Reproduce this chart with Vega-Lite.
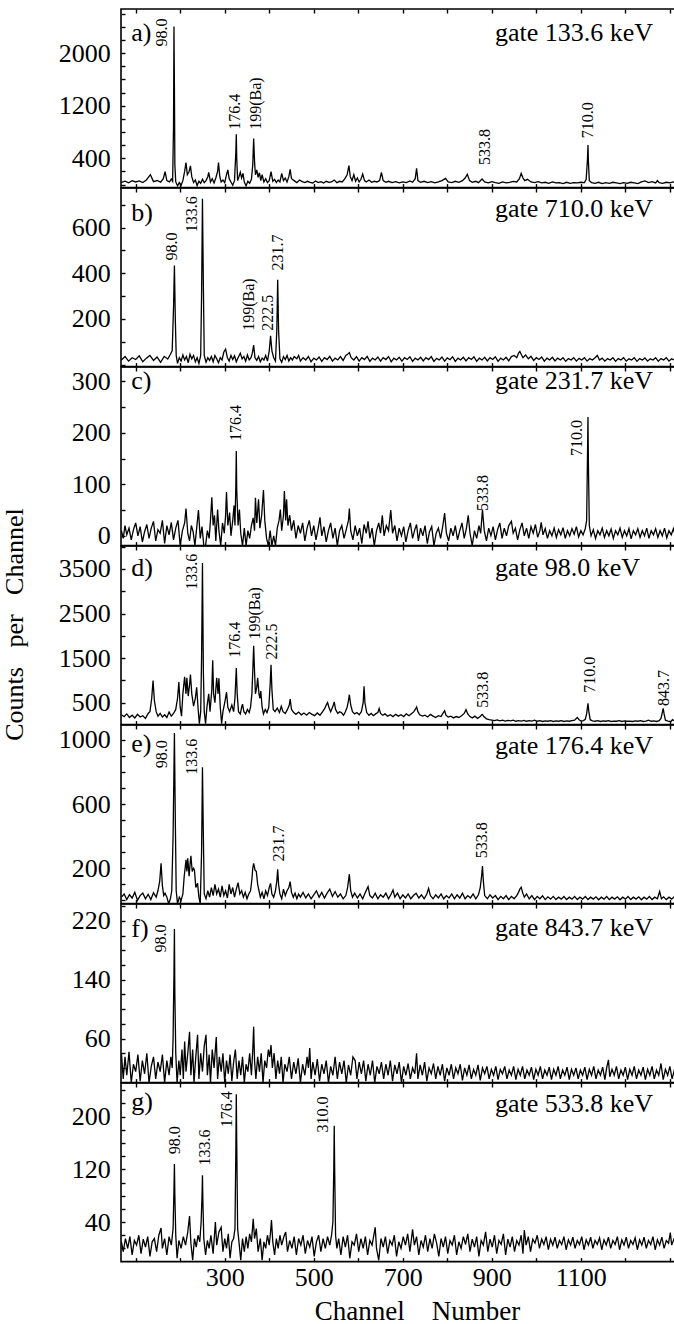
{
"$schema": "https://vega.github.io/schema/vega-lite/v6.json",
"padding": {"left": 0, "top": 7, "right": 0, "bottom": 14},
"bounds": "flush",
"spacing": 0,
"config": {
 "view": {"stroke": "black", "strokeWidth": 1.6},
 "font": "Liberation Serif",
 "axis": {"labelFont": "Liberation Serif", "labelColor": "black", "tickColor": "black", "tickWidth": 1.4, "tickSize": -4, "tickCount": 100, "domain": false, "grid": false, "labelOverlap": false, "labelFlush": false, "titleFont": "Liberation Serif", "titleColor": "black", "titleFontWeight": "normal", "format": "d"},
 "axisX": {"labelFontSize": 26, "labelPadding": 6.6},
 "axisY": {"labelFontSize": 26, "labelPadding": 14.7},
 "text": {"font": "Liberation Serif", "color": "black"}
},
"datasets": {
"a": [{"c":68,"v":35},{"c":76,"v":52},{"c":84,"v":28},{"c":92,"v":60},{"c":100,"v":40},{"c":108,"v":55},{"c":116,"v":30},{"c":124,"v":70},{"c":133,"v":150},{"c":140,"v":45},{"c":148,"v":62},{"c":156,"v":38},{"c":162,"v":90},{"c":166,"v":197},{"c":170,"v":60},{"c":176,"v":40},{"c":180,"v":85},{"c":183,"v":50},{"c":185,"v":900},{"c":186,"v":2407},{"c":187,"v":1500},{"c":188,"v":300},{"c":190,"v":40},{"c":194,"v":-20},{"c":198,"v":30},{"c":202,"v":-10},{"c":206,"v":60},{"c":210,"v":200},{"c":213,"v":334},{"c":216,"v":150},{"c":220,"v":200},{"c":223,"v":284},{"c":226,"v":120},{"c":230,"v":30},{"c":234,"v":70},{"c":238,"v":-15},{"c":242,"v":50},{"c":246,"v":20},{"c":250,"v":80},{"c":254,"v":30},{"c":258,"v":60},{"c":262,"v":120},{"c":264,"v":187},{"c":268,"v":40},{"c":272,"v":90},{"c":276,"v":25},{"c":280,"v":100},{"c":284,"v":200},{"c":286,"v":334},{"c":289,"v":120},{"c":292,"v":40},{"c":296,"v":70},{"c":300,"v":30},{"c":304,"v":150},{"c":307,"v":223},{"c":310,"v":90},{"c":314,"v":40},{"c":318,"v":-10},{"c":322,"v":60},{"c":325,"v":500},{"c":326,"v":766},{"c":327,"v":400},{"c":329,"v":60},{"c":332,"v":120},{"c":335,"v":187},{"c":338,"v":100},{"c":341,"v":170},{"c":344,"v":40},{"c":348,"v":-20},{"c":352,"v":50},{"c":356,"v":20},{"c":360,"v":80},{"c":363,"v":300},{"c":365,"v":700},{"c":367,"v":350},{"c":369,"v":150},{"c":372,"v":223},{"c":375,"v":110},{"c":378,"v":180},{"c":381,"v":60},{"c":384,"v":150},{"c":388,"v":40},{"c":392,"v":90},{"c":396,"v":30},{"c":400,"v":60},{"c":404,"v":197},{"c":408,"v":50},{"c":412,"v":80},{"c":416,"v":30},{"c":420,"v":70},{"c":424,"v":40},{"c":428,"v":171},{"c":432,"v":60},{"c":436,"v":100},{"c":440,"v":40},{"c":444,"v":120},{"c":447,"v":232},{"c":450,"v":90},{"c":456,"v":60},{"c":462,"v":30},{"c":468,"v":70},{"c":474,"v":45},{"c":480,"v":30},{"c":486,"v":50},{"c":492,"v":35},{"c":498,"v":25},{"c":504,"v":55},{"c":510,"v":30},{"c":516,"v":45},{"c":522,"v":25},{"c":528,"v":50},{"c":534,"v":35},{"c":540,"v":40},{"c":546,"v":70},{"c":552,"v":30},{"c":558,"v":50},{"c":564,"v":40},{"c":570,"v":90},{"c":575,"v":150},{"c":579,"v":289},{"c":582,"v":120},{"c":586,"v":60},{"c":590,"v":150},{"c":594,"v":50},{"c":598,"v":100},{"c":602,"v":40},{"c":606,"v":80},{"c":610,"v":162},{"c":614,"v":60},{"c":618,"v":40},{"c":624,"v":70},{"c":630,"v":35},{"c":636,"v":50},{"c":642,"v":40},{"c":648,"v":60},{"c":652,"v":187},{"c":656,"v":60},{"c":662,"v":35},{"c":668,"v":50},{"c":676,"v":30},{"c":684,"v":45},{"c":692,"v":25},{"c":700,"v":40},{"c":708,"v":30},{"c":716,"v":55},{"c":722,"v":35},{"c":728,"v":90},{"c":731,"v":248},{"c":734,"v":60},{"c":740,"v":35},{"c":748,"v":50},{"c":756,"v":30},{"c":764,"v":45},{"c":772,"v":25},{"c":780,"v":40},{"c":788,"v":60},{"c":796,"v":95},{"c":802,"v":40},{"c":810,"v":30},{"c":818,"v":50},{"c":826,"v":35},{"c":834,"v":60},{"c":840,"v":100},{"c":845,"v":158},{"c":850,"v":60},{"c":856,"v":35},{"c":864,"v":50},{"c":870,"v":30},{"c":878,"v":85},{"c":884,"v":40},{"c":892,"v":25},{"c":900,"v":45},{"c":908,"v":30},{"c":916,"v":20},{"c":924,"v":40},{"c":932,"v":25},{"c":940,"v":35},{"c":948,"v":50},{"c":956,"v":40},{"c":962,"v":90},{"c":966,"v":171},{"c":970,"v":100},{"c":974,"v":60},{"c":980,"v":80},{"c":988,"v":40},{"c":996,"v":30},{"c":1004,"v":45},{"c":1012,"v":25},{"c":1020,"v":35},{"c":1028,"v":20},{"c":1036,"v":40},{"c":1044,"v":25},{"c":1052,"v":30},{"c":1060,"v":15},{"c":1068,"v":35},{"c":1076,"v":20},{"c":1084,"v":30},{"c":1092,"v":25},{"c":1100,"v":35},{"c":1108,"v":30},{"c":1112,"v":80},{"c":1115,"v":400},{"c":1116,"v":604},{"c":1117,"v":350},{"c":1119,"v":60},{"c":1124,"v":30},{"c":1132,"v":20},{"c":1140,"v":35},{"c":1148,"v":15},{"c":1156,"v":30},{"c":1164,"v":20},{"c":1172,"v":35},{"c":1180,"v":25},{"c":1188,"v":15},{"c":1196,"v":30},{"c":1204,"v":20},{"c":1212,"v":35},{"c":1220,"v":25},{"c":1228,"v":15},{"c":1236,"v":40},{"c":1244,"v":55},{"c":1252,"v":30},{"c":1260,"v":45},{"c":1268,"v":25},{"c":1272,"v":60},{"c":1276,"v":30},{"c":1284,"v":20},{"c":1292,"v":35},{"c":1300,"v":25},{"c":1308,"v":40},{"c":1316,"v":30}],
"b": [{"c":68,"v":20},{"c":76,"v":35},{"c":84,"v":15},{"c":92,"v":30},{"c":100,"v":22},{"c":108,"v":38},{"c":116,"v":12},{"c":124,"v":28},{"c":132,"v":40},{"c":140,"v":18},{"c":148,"v":33},{"c":156,"v":10},{"c":164,"v":36},{"c":172,"v":24},{"c":178,"v":45},{"c":182,"v":60},{"c":185,"v":250},{"c":187,"v":434},{"c":189,"v":200},{"c":191,"v":40},{"c":194,"v":5},{"c":198,"v":30},{"c":202,"v":15},{"c":206,"v":42},{"c":210,"v":20},{"c":214,"v":35},{"c":218,"v":8},{"c":222,"v":45},{"c":226,"v":25},{"c":230,"v":40},{"c":234,"v":12},{"c":238,"v":30},{"c":242,"v":5},{"c":246,"v":40},{"c":248,"v":300},{"c":250,"v":727},{"c":252,"v":350},{"c":254,"v":40},{"c":258,"v":10},{"c":262,"v":30},{"c":266,"v":18},{"c":270,"v":35},{"c":274,"v":12},{"c":278,"v":40},{"c":282,"v":25},{"c":286,"v":8},{"c":290,"v":30},{"c":294,"v":20},{"c":298,"v":55},{"c":302,"v":67},{"c":306,"v":30},{"c":310,"v":15},{"c":314,"v":40},{"c":318,"v":22},{"c":322,"v":38},{"c":326,"v":12},{"c":330,"v":30},{"c":335,"v":50},{"c":339,"v":25},{"c":343,"v":35},{"c":347,"v":15},{"c":351,"v":42},{"c":355,"v":20},{"c":359,"v":30},{"c":362,"v":50},{"c":365,"v":85},{"c":368,"v":30},{"c":372,"v":18},{"c":376,"v":35},{"c":380,"v":12},{"c":384,"v":28},{"c":388,"v":20},{"c":392,"v":40},{"c":396,"v":15},{"c":400,"v":60},{"c":403,"v":126},{"c":406,"v":60},{"c":410,"v":30},{"c":414,"v":15},{"c":417,"v":150},{"c":419,"v":372},{"c":421,"v":150},{"c":424,"v":25},{"c":428,"v":10},{"c":432,"v":35},{"c":436,"v":22},{"c":440,"v":40},{"c":444,"v":15},{"c":448,"v":30},{"c":452,"v":20},{"c":456,"v":35},{"c":462,"v":25},{"c":466,"v":40},{"c":470,"v":15},{"c":476,"v":30},{"c":482,"v":20},{"c":488,"v":35},{"c":494,"v":12},{"c":500,"v":28},{"c":506,"v":20},{"c":512,"v":33},{"c":518,"v":14},{"c":524,"v":30},{"c":530,"v":22},{"c":536,"v":36},{"c":542,"v":15},{"c":548,"v":28},{"c":554,"v":20},{"c":560,"v":35},{"c":566,"v":18},{"c":572,"v":40},{"c":576,"v":45},{"c":580,"v":52},{"c":584,"v":30},{"c":590,"v":20},{"c":596,"v":35},{"c":602,"v":15},{"c":608,"v":30},{"c":614,"v":22},{"c":620,"v":36},{"c":626,"v":14},{"c":632,"v":28},{"c":638,"v":20},{"c":644,"v":33},{"c":650,"v":15},{"c":656,"v":30},{"c":662,"v":22},{"c":668,"v":35},{"c":674,"v":12},{"c":680,"v":28},{"c":686,"v":20},{"c":692,"v":32},{"c":698,"v":15},{"c":704,"v":30},{"c":710,"v":22},{"c":716,"v":34},{"c":722,"v":14},{"c":728,"v":28},{"c":734,"v":20},{"c":740,"v":32},{"c":746,"v":16},{"c":752,"v":30},{"c":758,"v":22},{"c":764,"v":35},{"c":770,"v":14},{"c":776,"v":27},{"c":782,"v":20},{"c":788,"v":33},{"c":794,"v":15},{"c":800,"v":29},{"c":806,"v":21},{"c":812,"v":34},{"c":818,"v":14},{"c":824,"v":28},{"c":830,"v":20},{"c":836,"v":32},{"c":842,"v":16},{"c":848,"v":30},{"c":854,"v":22},{"c":860,"v":34},{"c":866,"v":14},{"c":872,"v":28},{"c":878,"v":20},{"c":884,"v":32},{"c":890,"v":16},{"c":896,"v":30},{"c":902,"v":22},{"c":908,"v":34},{"c":914,"v":14},{"c":920,"v":28},{"c":926,"v":20},{"c":932,"v":32},{"c":938,"v":16},{"c":944,"v":35},{"c":950,"v":40},{"c":956,"v":30},{"c":960,"v":50},{"c":963,"v":57},{"c":966,"v":45},{"c":970,"v":30},{"c":976,"v":42},{"c":982,"v":25},{"c":988,"v":36},{"c":994,"v":18},{"c":1000,"v":30},{"c":1006,"v":22},{"c":1012,"v":33},{"c":1018,"v":15},{"c":1024,"v":28},{"c":1030,"v":20},{"c":1036,"v":32},{"c":1042,"v":16},{"c":1048,"v":28},{"c":1054,"v":20},{"c":1060,"v":30},{"c":1066,"v":14},{"c":1072,"v":26},{"c":1078,"v":20},{"c":1084,"v":30},{"c":1090,"v":15},{"c":1096,"v":27},{"c":1102,"v":20},{"c":1108,"v":30},{"c":1114,"v":15},{"c":1120,"v":26},{"c":1126,"v":20},{"c":1132,"v":30},{"c":1137,"v":40},{"c":1142,"v":20},{"c":1148,"v":28},{"c":1154,"v":15},{"c":1160,"v":26},{"c":1166,"v":20},{"c":1172,"v":30},{"c":1178,"v":14},{"c":1184,"v":26},{"c":1190,"v":20},{"c":1196,"v":30},{"c":1202,"v":15},{"c":1208,"v":25},{"c":1214,"v":20},{"c":1220,"v":30},{"c":1226,"v":14},{"c":1232,"v":26},{"c":1238,"v":20},{"c":1244,"v":29},{"c":1250,"v":15},{"c":1256,"v":25},{"c":1262,"v":20},{"c":1268,"v":30},{"c":1274,"v":14},{"c":1280,"v":26},{"c":1286,"v":20},{"c":1292,"v":30},{"c":1298,"v":15},{"c":1304,"v":25},{"c":1310,"v":20},{"c":1316,"v":28}],
"c": [{"c":68,"v":10},{"c":72,"v":-5},{"c":76,"v":20},{"c":80,"v":2},{"c":85,"v":15},{"c":90,"v":-8},{"c":95,"v":12},{"c":100,"v":25},{"c":105,"v":0},{"c":110,"v":18},{"c":115,"v":-12},{"c":120,"v":8},{"c":125,"v":22},{"c":130,"v":-5},{"c":135,"v":15},{"c":140,"v":28},{"c":145,"v":-10},{"c":150,"v":12},{"c":155,"v":5},{"c":160,"v":30},{"c":165,"v":-15},{"c":170,"v":20},{"c":175,"v":2},{"c":180,"v":26},{"c":185,"v":-8},{"c":190,"v":15},{"c":195,"v":30},{"c":200,"v":-19},{"c":205,"v":10},{"c":210,"v":25},{"c":213,"v":53},{"c":217,"v":5},{"c":221,"v":-10},{"c":225,"v":20},{"c":229,"v":8},{"c":233,"v":-19},{"c":237,"v":15},{"c":241,"v":50},{"c":245,"v":-5},{"c":249,"v":18},{"c":253,"v":-19},{"c":257,"v":-19},{"c":261,"v":10},{"c":265,"v":-5},{"c":268,"v":30},{"c":271,"v":75},{"c":274,"v":20},{"c":277,"v":40},{"c":280,"v":-10},{"c":284,"v":51},{"c":287,"v":10},{"c":291,"v":-19},{"c":295,"v":25},{"c":299,"v":5},{"c":302,"v":40},{"c":304,"v":85},{"c":307,"v":20},{"c":311,"v":45},{"c":314,"v":0},{"c":318,"v":30},{"c":321,"v":59},{"c":323,"v":20},{"c":325,"v":100},{"c":326,"v":165},{"c":327,"v":90},{"c":330,"v":20},{"c":333,"v":51},{"c":336,"v":5},{"c":340,"v":-19},{"c":344,"v":15},{"c":348,"v":-19},{"c":352,"v":10},{"c":356,"v":-5},{"c":360,"v":20},{"c":364,"v":35},{"c":367,"v":10},{"c":369,"v":74},{"c":372,"v":25},{"c":376,"v":71},{"c":379,"v":15},{"c":383,"v":40},{"c":387,"v":89},{"c":390,"v":30},{"c":394,"v":-5},{"c":398,"v":-19},{"c":402,"v":10},{"c":406,"v":-19},{"c":410,"v":0},{"c":414,"v":-19},{"c":418,"v":15},{"c":422,"v":30},{"c":425,"v":51},{"c":428,"v":10},{"c":432,"v":40},{"c":434,"v":87},{"c":437,"v":30},{"c":439,"v":71},{"c":442,"v":20},{"c":446,"v":40},{"c":450,"v":10},{"c":455,"v":30},{"c":460,"v":-5},{"c":465,"v":20},{"c":470,"v":5},{"c":475,"v":25},{"c":480,"v":-10},{"c":485,"v":15},{"c":490,"v":30},{"c":495,"v":0},{"c":500,"v":20},{"c":505,"v":-8},{"c":510,"v":15},{"c":514,"v":36},{"c":518,"v":0},{"c":523,"v":18},{"c":528,"v":-12},{"c":533,"v":10},{"c":538,"v":25},{"c":543,"v":-5},{"c":548,"v":15},{"c":553,"v":-19},{"c":558,"v":10},{"c":563,"v":20},{"c":568,"v":-5},{"c":573,"v":12},{"c":578,"v":30},{"c":580,"v":53},{"c":583,"v":10},{"c":588,"v":-8},{"c":593,"v":20},{"c":598,"v":0},{"c":603,"v":15},{"c":608,"v":-15},{"c":613,"v":22},{"c":618,"v":5},{"c":622,"v":28},{"c":626,"v":-5},{"c":631,"v":15},{"c":636,"v":-19},{"c":641,"v":10},{"c":646,"v":25},{"c":650,"v":5},{"c":654,"v":40},{"c":658,"v":0},{"c":663,"v":20},{"c":668,"v":10},{"c":673,"v":50},{"c":677,"v":5},{"c":682,"v":20},{"c":687,"v":-10},{"c":692,"v":15},{"c":697,"v":0},{"c":702,"v":18},{"c":707,"v":-12},{"c":712,"v":10},{"c":717,"v":25},{"c":722,"v":-5},{"c":727,"v":12},{"c":731,"v":22},{"c":735,"v":-10},{"c":740,"v":15},{"c":745,"v":0},{"c":750,"v":20},{"c":755,"v":-15},{"c":760,"v":8},{"c":765,"v":18},{"c":770,"v":-19},{"c":775,"v":5},{"c":780,"v":15},{"c":785,"v":-5},{"c":790,"v":20},{"c":794,"v":44},{"c":798,"v":5},{"c":803,"v":-10},{"c":808,"v":15},{"c":813,"v":0},{"c":818,"v":20},{"c":823,"v":-8},{"c":828,"v":10},{"c":833,"v":25},{"c":838,"v":-5},{"c":843,"v":15},{"c":847,"v":40},{"c":851,"v":5},{"c":856,"v":-19},{"c":861,"v":10},{"c":866,"v":-5},{"c":871,"v":20},{"c":875,"v":5},{"c":879,"v":51},{"c":883,"v":10},{"c":888,"v":-10},{"c":893,"v":15},{"c":898,"v":0},{"c":903,"v":18},{"c":908,"v":-8},{"c":913,"v":12},{"c":918,"v":25},{"c":923,"v":-5},{"c":928,"v":15},{"c":933,"v":0},{"c":938,"v":20},{"c":944,"v":28},{"c":948,"v":5},{"c":953,"v":15},{"c":958,"v":-8},{"c":963,"v":12},{"c":968,"v":25},{"c":973,"v":0},{"c":978,"v":15},{"c":983,"v":-5},{"c":988,"v":18},{"c":993,"v":5},{"c":998,"v":22},{"c":1003,"v":-3},{"c":1008,"v":10},{"c":1011,"v":26},{"c":1015,"v":2},{"c":1020,"v":14},{"c":1025,"v":-5},{"c":1030,"v":10},{"c":1035,"v":0},{"c":1040,"v":15},{"c":1045,"v":-3},{"c":1050,"v":12},{"c":1055,"v":2},{"c":1060,"v":16},{"c":1065,"v":-5},{"c":1070,"v":10},{"c":1075,"v":0},{"c":1080,"v":14},{"c":1085,"v":3},{"c":1090,"v":18},{"c":1095,"v":-2},{"c":1100,"v":10},{"c":1105,"v":2},{"c":1110,"v":14},{"c":1113,"v":30},{"c":1115,"v":160},{"c":1116,"v":231},{"c":1117,"v":140},{"c":1119,"v":20},{"c":1123,"v":0},{"c":1128,"v":12},{"c":1133,"v":-5},{"c":1138,"v":10},{"c":1143,"v":2},{"c":1148,"v":15},{"c":1153,"v":-3},{"c":1158,"v":10},{"c":1163,"v":0},{"c":1168,"v":13},{"c":1173,"v":-5},{"c":1178,"v":10},{"c":1183,"v":2},{"c":1188,"v":15},{"c":1193,"v":-3},{"c":1198,"v":10},{"c":1203,"v":0},{"c":1208,"v":14},{"c":1213,"v":-6},{"c":1218,"v":10},{"c":1223,"v":2},{"c":1228,"v":14},{"c":1233,"v":-3},{"c":1238,"v":10},{"c":1243,"v":0},{"c":1248,"v":15},{"c":1253,"v":-5},{"c":1258,"v":10},{"c":1263,"v":2},{"c":1268,"v":14},{"c":1273,"v":-3},{"c":1278,"v":10},{"c":1283,"v":0},{"c":1288,"v":15},{"c":1293,"v":-4},{"c":1298,"v":10},{"c":1303,"v":2},{"c":1308,"v":14},{"c":1313,"v":-3},{"c":1316,"v":8}],
"d": [{"c":68,"v":230},{"c":74,"v":190},{"c":80,"v":250},{"c":86,"v":170},{"c":92,"v":220},{"c":98,"v":160},{"c":104,"v":240},{"c":110,"v":180},{"c":116,"v":210},{"c":122,"v":150},{"c":128,"v":260},{"c":132,"v":300},{"c":136,"v":600},{"c":139,"v":1000},{"c":142,"v":550},{"c":146,"v":300},{"c":150,"v":200},{"c":155,"v":260},{"c":160,"v":180},{"c":165,"v":230},{"c":170,"v":170},{"c":175,"v":290},{"c":180,"v":200},{"c":185,"v":260},{"c":190,"v":350},{"c":194,"v":600},{"c":197,"v":963},{"c":200,"v":400},{"c":203,"v":200},{"c":206,"v":700},{"c":208,"v":900},{"c":210,"v":1082},{"c":213,"v":700},{"c":215,"v":1060},{"c":218,"v":650},{"c":221,"v":900},{"c":223,"v":1134},{"c":226,"v":700},{"c":230,"v":426},{"c":234,"v":600},{"c":237,"v":848},{"c":240,"v":400},{"c":243,"v":30},{"c":246,"v":300},{"c":248,"v":1500},{"c":250,"v":3634},{"c":252,"v":1200},{"c":254,"v":300},{"c":257,"v":30},{"c":260,"v":400},{"c":264,"v":700},{"c":267,"v":300},{"c":271,"v":800},{"c":273,"v":1450},{"c":275,"v":700},{"c":278,"v":500},{"c":280,"v":800},{"c":282,"v":1060},{"c":285,"v":700},{"c":287,"v":1050},{"c":290,"v":400},{"c":293,"v":30},{"c":296,"v":300},{"c":300,"v":500},{"c":304,"v":740},{"c":307,"v":400},{"c":311,"v":300},{"c":316,"v":450},{"c":320,"v":300},{"c":323,"v":600},{"c":326,"v":1276},{"c":328,"v":700},{"c":331,"v":300},{"c":335,"v":250},{"c":338,"v":400},{"c":340,"v":470},{"c":343,"v":300},{"c":347,"v":250},{"c":351,"v":350},{"c":355,"v":280},{"c":358,"v":400},{"c":361,"v":700},{"c":363,"v":1200},{"c":365,"v":1775},{"c":367,"v":1200},{"c":369,"v":700},{"c":372,"v":850},{"c":374,"v":1060},{"c":377,"v":700},{"c":379,"v":600},{"c":381,"v":760},{"c":384,"v":400},{"c":387,"v":250},{"c":391,"v":350},{"c":395,"v":280},{"c":399,"v":400},{"c":402,"v":900},{"c":404,"v":1350},{"c":406,"v":800},{"c":409,"v":350},{"c":413,"v":300},{"c":418,"v":380},{"c":423,"v":280},{"c":427,"v":420},{"c":431,"v":300},{"c":436,"v":260},{"c":441,"v":350},{"c":445,"v":450},{"c":447,"v":580},{"c":450,"v":350},{"c":455,"v":280},{"c":460,"v":240},{"c":466,"v":290},{"c":472,"v":230},{"c":478,"v":270},{"c":484,"v":220},{"c":490,"v":280},{"c":496,"v":240},{"c":502,"v":210},{"c":508,"v":270},{"c":514,"v":220},{"c":520,"v":300},{"c":525,"v":380},{"c":528,"v":450},{"c":531,"v":505},{"c":534,"v":400},{"c":538,"v":300},{"c":543,"v":420},{"c":546,"v":520},{"c":549,"v":350},{"c":554,"v":260},{"c":558,"v":300},{"c":562,"v":280},{"c":567,"v":220},{"c":571,"v":300},{"c":575,"v":400},{"c":578,"v":550},{"c":580,"v":680},{"c":583,"v":450},{"c":587,"v":300},{"c":592,"v":250},{"c":597,"v":280},{"c":602,"v":230},{"c":607,"v":300},{"c":611,"v":500},{"c":613,"v":870},{"c":615,"v":500},{"c":619,"v":280},{"c":624,"v":220},{"c":629,"v":260},{"c":634,"v":210},{"c":639,"v":250},{"c":644,"v":280},{"c":647,"v":370},{"c":650,"v":260},{"c":655,"v":220},{"c":660,"v":250},{"c":666,"v":200},{"c":672,"v":230},{"c":678,"v":190},{"c":684,"v":240},{"c":690,"v":200},{"c":696,"v":230},{"c":702,"v":190},{"c":708,"v":250},{"c":714,"v":210},{"c":720,"v":260},{"c":725,"v":300},{"c":728,"v":350},{"c":731,"v":405},{"c":734,"v":300},{"c":738,"v":230},{"c":744,"v":200},{"c":750,"v":220},{"c":756,"v":180},{"c":762,"v":240},{"c":768,"v":200},{"c":774,"v":170},{"c":780,"v":210},{"c":786,"v":190},{"c":790,"v":260},{"c":794,"v":320},{"c":797,"v":220},{"c":802,"v":180},{"c":808,"v":200},{"c":814,"v":160},{"c":820,"v":190},{"c":826,"v":170},{"c":832,"v":210},{"c":838,"v":260},{"c":842,"v":345},{"c":846,"v":250},{"c":851,"v":190},{"c":856,"v":160},{"c":862,"v":200},{"c":868,"v":150},{"c":874,"v":190},{"c":877,"v":230},{"c":879,"v":238},{"c":882,"v":190},{"c":888,"v":140},{"c":894,"v":120},{"c":900,"v":110},{"c":906,"v":100},{"c":912,"v":115},{"c":918,"v":95},{"c":924,"v":110},{"c":930,"v":90},{"c":936,"v":105},{"c":942,"v":95},{"c":948,"v":110},{"c":954,"v":85},{"c":960,"v":100},{"c":966,"v":90},{"c":972,"v":105},{"c":978,"v":85},{"c":984,"v":100},{"c":990,"v":90},{"c":996,"v":110},{"c":1002,"v":85},{"c":1008,"v":100},{"c":1014,"v":80},{"c":1020,"v":95},{"c":1026,"v":85},{"c":1032,"v":100},{"c":1038,"v":80},{"c":1044,"v":95},{"c":1050,"v":85},{"c":1056,"v":100},{"c":1062,"v":80},{"c":1068,"v":95},{"c":1074,"v":85},{"c":1080,"v":100},{"c":1086,"v":110},{"c":1092,"v":170},{"c":1096,"v":120},{"c":1100,"v":95},{"c":1106,"v":100},{"c":1110,"v":130},{"c":1113,"v":250},{"c":1116,"v":485},{"c":1118,"v":300},{"c":1121,"v":120},{"c":1126,"v":95},{"c":1132,"v":85},{"c":1138,"v":100},{"c":1144,"v":80},{"c":1150,"v":95},{"c":1156,"v":85},{"c":1162,"v":100},{"c":1168,"v":80},{"c":1174,"v":90},{"c":1180,"v":85},{"c":1186,"v":100},{"c":1192,"v":80},{"c":1198,"v":95},{"c":1204,"v":85},{"c":1210,"v":90},{"c":1216,"v":80},{"c":1222,"v":95},{"c":1228,"v":85},{"c":1234,"v":100},{"c":1240,"v":80},{"c":1246,"v":90},{"c":1252,"v":110},{"c":1258,"v":85},{"c":1264,"v":95},{"c":1270,"v":80},{"c":1276,"v":100},{"c":1280,"v":150},{"c":1283,"v":280},{"c":1285,"v":373},{"c":1287,"v":250},{"c":1290,"v":110},{"c":1296,"v":90},{"c":1302,"v":80},{"c":1306,"v":120},{"c":1310,"v":90},{"c":1316,"v":85}],
"e": [{"c":68,"v":20},{"c":74,"v":40},{"c":80,"v":5},{"c":86,"v":35},{"c":92,"v":15},{"c":98,"v":50},{"c":104,"v":0},{"c":110,"v":30},{"c":116,"v":45},{"c":122,"v":10},{"c":128,"v":38},{"c":134,"v":5},{"c":140,"v":48},{"c":146,"v":20},{"c":150,"v":60},{"c":154,"v":120},{"c":157,"v":231},{"c":160,"v":90},{"c":163,"v":30},{"c":166,"v":45},{"c":170,"v":20},{"c":174,"v":-20},{"c":178,"v":10},{"c":181,"v":60},{"c":184,"v":400},{"c":187,"v":1042},{"c":189,"v":500},{"c":191,"v":60},{"c":194,"v":-20},{"c":198,"v":20},{"c":202,"v":0},{"c":206,"v":40},{"c":209,"v":150},{"c":211,"v":200},{"c":213,"v":252},{"c":215,"v":180},{"c":217,"v":262},{"c":220,"v":150},{"c":222,"v":220},{"c":224,"v":277},{"c":227,"v":180},{"c":230,"v":200},{"c":232,"v":190},{"c":235,"v":80},{"c":239,"v":106},{"c":242,"v":20},{"c":245,"v":-20},{"c":248,"v":300},{"c":250,"v":829},{"c":252,"v":400},{"c":254,"v":40},{"c":258,"v":10},{"c":262,"v":60},{"c":266,"v":20},{"c":270,"v":80},{"c":274,"v":30},{"c":278,"v":100},{"c":282,"v":40},{"c":286,"v":70},{"c":290,"v":20},{"c":294,"v":90},{"c":298,"v":30},{"c":302,"v":60},{"c":306,"v":15},{"c":310,"v":100},{"c":314,"v":40},{"c":318,"v":80},{"c":322,"v":20},{"c":326,"v":70},{"c":330,"v":110},{"c":334,"v":40},{"c":338,"v":60},{"c":342,"v":20},{"c":346,"v":50},{"c":350,"v":10},{"c":354,"v":40},{"c":358,"v":60},{"c":361,"v":130},{"c":363,"v":200},{"c":365,"v":231},{"c":368,"v":190},{"c":371,"v":180},{"c":374,"v":100},{"c":377,"v":60},{"c":380,"v":20},{"c":384,"v":50},{"c":388,"v":10},{"c":392,"v":60},{"c":396,"v":30},{"c":400,"v":80},{"c":403,"v":106},{"c":406,"v":40},{"c":410,"v":20},{"c":414,"v":60},{"c":417,"v":120},{"c":419,"v":194},{"c":421,"v":100},{"c":424,"v":40},{"c":428,"v":10},{"c":432,"v":70},{"c":436,"v":30},{"c":440,"v":60},{"c":444,"v":80},{"c":447,"v":117},{"c":450,"v":50},{"c":454,"v":20},{"c":458,"v":45},{"c":462,"v":10},{"c":466,"v":40},{"c":470,"v":20},{"c":476,"v":50},{"c":482,"v":15},{"c":488,"v":40},{"c":494,"v":10},{"c":500,"v":35},{"c":506,"v":60},{"c":512,"v":20},{"c":518,"v":50},{"c":524,"v":15},{"c":530,"v":45},{"c":536,"v":70},{"c":542,"v":25},{"c":548,"v":55},{"c":554,"v":20},{"c":560,"v":40},{"c":566,"v":10},{"c":572,"v":30},{"c":576,"v":80},{"c":580,"v":163},{"c":583,"v":60},{"c":587,"v":20},{"c":592,"v":45},{"c":598,"v":15},{"c":604,"v":40},{"c":610,"v":10},{"c":616,"v":50},{"c":622,"v":86},{"c":626,"v":30},{"c":632,"v":15},{"c":638,"v":45},{"c":644,"v":10},{"c":650,"v":35},{"c":656,"v":20},{"c":662,"v":45},{"c":668,"v":10},{"c":674,"v":40},{"c":678,"v":65},{"c":682,"v":20},{"c":688,"v":45},{"c":694,"v":10},{"c":700,"v":35},{"c":706,"v":15},{"c":712,"v":40},{"c":718,"v":10},{"c":724,"v":30},{"c":730,"v":45},{"c":736,"v":15},{"c":742,"v":35},{"c":748,"v":10},{"c":754,"v":40},{"c":758,"v":75},{"c":762,"v":30},{"c":768,"v":10},{"c":774,"v":35},{"c":780,"v":15},{"c":786,"v":40},{"c":792,"v":10},{"c":798,"v":30},{"c":804,"v":15},{"c":810,"v":40},{"c":816,"v":10},{"c":822,"v":35},{"c":828,"v":15},{"c":834,"v":45},{"c":840,"v":10},{"c":846,"v":30},{"c":852,"v":15},{"c":858,"v":40},{"c":864,"v":10},{"c":870,"v":35},{"c":874,"v":80},{"c":877,"v":150},{"c":879,"v":214},{"c":881,"v":120},{"c":884,"v":30},{"c":890,"v":10},{"c":896,"v":35},{"c":902,"v":15},{"c":908,"v":30},{"c":914,"v":5},{"c":920,"v":25},{"c":926,"v":10},{"c":932,"v":30},{"c":938,"v":5},{"c":944,"v":25},{"c":950,"v":10},{"c":956,"v":30},{"c":960,"v":50},{"c":963,"v":70},{"c":966,"v":82},{"c":969,"v":50},{"c":973,"v":20},{"c":978,"v":40},{"c":984,"v":10},{"c":990,"v":30},{"c":996,"v":5},{"c":1002,"v":25},{"c":1008,"v":10},{"c":1014,"v":28},{"c":1020,"v":5},{"c":1026,"v":22},{"c":1032,"v":8},{"c":1038,"v":25},{"c":1044,"v":5},{"c":1050,"v":20},{"c":1056,"v":8},{"c":1062,"v":24},{"c":1068,"v":5},{"c":1074,"v":20},{"c":1080,"v":8},{"c":1086,"v":25},{"c":1092,"v":5},{"c":1098,"v":20},{"c":1104,"v":8},{"c":1110,"v":24},{"c":1116,"v":5},{"c":1122,"v":20},{"c":1128,"v":8},{"c":1134,"v":22},{"c":1140,"v":4},{"c":1146,"v":20},{"c":1152,"v":8},{"c":1158,"v":24},{"c":1164,"v":5},{"c":1170,"v":20},{"c":1176,"v":8},{"c":1182,"v":22},{"c":1188,"v":4},{"c":1194,"v":20},{"c":1200,"v":8},{"c":1206,"v":24},{"c":1212,"v":5},{"c":1218,"v":20},{"c":1224,"v":8},{"c":1230,"v":22},{"c":1236,"v":4},{"c":1242,"v":20},{"c":1248,"v":8},{"c":1254,"v":24},{"c":1260,"v":5},{"c":1266,"v":20},{"c":1272,"v":10},{"c":1277,"v":55},{"c":1281,"v":10},{"c":1286,"v":22},{"c":1292,"v":5},{"c":1298,"v":20},{"c":1304,"v":8},{"c":1310,"v":24},{"c":1316,"v":10}],
"f": [{"c":68,"v":40},{"c":72,"v":5},{"c":76,"v":35},{"c":80,"v":10},{"c":85,"v":42},{"c":90,"v":0},{"c":95,"v":25},{"c":100,"v":15},{"c":105,"v":38},{"c":110,"v":2},{"c":115,"v":30},{"c":120,"v":12},{"c":125,"v":40},{"c":130,"v":0},{"c":135,"v":22},{"c":140,"v":35},{"c":145,"v":5},{"c":150,"v":28},{"c":155,"v":15},{"c":160,"v":38},{"c":165,"v":0},{"c":170,"v":30},{"c":175,"v":10},{"c":179,"v":35},{"c":182,"v":20},{"c":184,"v":60},{"c":186,"v":150},{"c":187,"v":209},{"c":188,"v":120},{"c":190,"v":40},{"c":193,"v":0},{"c":197,"v":30},{"c":200,"v":10},{"c":204,"v":45},{"c":207,"v":5},{"c":210,"v":56},{"c":213,"v":15},{"c":217,"v":40},{"c":221,"v":69},{"c":224,"v":10},{"c":228,"v":45},{"c":231,"v":0},{"c":235,"v":35},{"c":239,"v":65},{"c":242,"v":5},{"c":246,"v":40},{"c":250,"v":15},{"c":254,"v":50},{"c":258,"v":65},{"c":261,"v":10},{"c":265,"v":38},{"c":268,"v":0},{"c":272,"v":45},{"c":276,"v":20},{"c":281,"v":62},{"c":284,"v":5},{"c":288,"v":35},{"c":292,"v":15},{"c":296,"v":40},{"c":300,"v":0},{"c":304,"v":30},{"c":308,"v":12},{"c":312,"v":38},{"c":316,"v":2},{"c":320,"v":28},{"c":324,"v":45},{"c":328,"v":5},{"c":332,"v":30},{"c":336,"v":10},{"c":340,"v":35},{"c":344,"v":0},{"c":348,"v":25},{"c":352,"v":15},{"c":356,"v":40},{"c":360,"v":10},{"c":363,"v":45},{"c":365,"v":76},{"c":367,"v":30},{"c":370,"v":5},{"c":374,"v":35},{"c":378,"v":15},{"c":382,"v":40},{"c":386,"v":0},{"c":390,"v":30},{"c":394,"v":20},{"c":398,"v":45},{"c":401,"v":35},{"c":404,"v":51},{"c":407,"v":20},{"c":411,"v":40},{"c":415,"v":5},{"c":419,"v":30},{"c":423,"v":12},{"c":427,"v":35},{"c":431,"v":0},{"c":435,"v":25},{"c":440,"v":15},{"c":445,"v":35},{"c":450,"v":5},{"c":455,"v":28},{"c":460,"v":12},{"c":465,"v":33},{"c":470,"v":0},{"c":475,"v":25},{"c":480,"v":10},{"c":485,"v":35},{"c":488,"v":20},{"c":491,"v":47},{"c":494,"v":5},{"c":498,"v":28},{"c":503,"v":10},{"c":508,"v":32},{"c":513,"v":2},{"c":518,"v":25},{"c":523,"v":12},{"c":528,"v":30},{"c":533,"v":0},{"c":538,"v":22},{"c":543,"v":10},{"c":548,"v":35},{"c":553,"v":5},{"c":558,"v":28},{"c":563,"v":12},{"c":568,"v":30},{"c":573,"v":0},{"c":578,"v":24},{"c":583,"v":10},{"c":588,"v":35},{"c":593,"v":30},{"c":597,"v":5},{"c":602,"v":28},{"c":607,"v":12},{"c":612,"v":30},{"c":617,"v":2},{"c":622,"v":25},{"c":627,"v":10},{"c":632,"v":30},{"c":637,"v":0},{"c":642,"v":22},{"c":647,"v":12},{"c":652,"v":28},{"c":657,"v":5},{"c":662,"v":25},{"c":667,"v":10},{"c":672,"v":30},{"c":677,"v":2},{"c":682,"v":24},{"c":687,"v":12},{"c":692,"v":28},{"c":697,"v":0},{"c":702,"v":22},{"c":707,"v":10},{"c":712,"v":26},{"c":717,"v":5},{"c":722,"v":20},{"c":727,"v":12},{"c":731,"v":40},{"c":734,"v":5},{"c":739,"v":24},{"c":744,"v":10},{"c":749,"v":28},{"c":754,"v":2},{"c":759,"v":20},{"c":764,"v":12},{"c":769,"v":26},{"c":774,"v":5},{"c":779,"v":22},{"c":784,"v":10},{"c":789,"v":25},{"c":794,"v":2},{"c":799,"v":20},{"c":804,"v":10},{"c":809,"v":25},{"c":814,"v":5},{"c":819,"v":20},{"c":824,"v":12},{"c":829,"v":25},{"c":834,"v":3},{"c":839,"v":20},{"c":844,"v":10},{"c":849,"v":24},{"c":854,"v":5},{"c":859,"v":18},{"c":864,"v":10},{"c":869,"v":24},{"c":874,"v":3},{"c":879,"v":20},{"c":884,"v":12},{"c":889,"v":22},{"c":894,"v":5},{"c":899,"v":18},{"c":904,"v":10},{"c":909,"v":22},{"c":914,"v":4},{"c":919,"v":18},{"c":924,"v":12},{"c":929,"v":22},{"c":934,"v":5},{"c":939,"v":17},{"c":944,"v":10},{"c":949,"v":22},{"c":954,"v":4},{"c":959,"v":18},{"c":964,"v":10},{"c":969,"v":22},{"c":974,"v":5},{"c":979,"v":17},{"c":984,"v":10},{"c":989,"v":21},{"c":994,"v":4},{"c":999,"v":18},{"c":1004,"v":10},{"c":1009,"v":22},{"c":1014,"v":5},{"c":1019,"v":17},{"c":1024,"v":10},{"c":1029,"v":21},{"c":1034,"v":4},{"c":1039,"v":18},{"c":1044,"v":10},{"c":1049,"v":22},{"c":1054,"v":5},{"c":1059,"v":17},{"c":1064,"v":10},{"c":1069,"v":21},{"c":1074,"v":4},{"c":1079,"v":18},{"c":1084,"v":10},{"c":1089,"v":20},{"c":1094,"v":5},{"c":1099,"v":17},{"c":1104,"v":10},{"c":1109,"v":21},{"c":1114,"v":4},{"c":1119,"v":18},{"c":1124,"v":10},{"c":1129,"v":22},{"c":1134,"v":5},{"c":1139,"v":17},{"c":1144,"v":10},{"c":1149,"v":21},{"c":1154,"v":4},{"c":1158,"v":20},{"c":1162,"v":31},{"c":1165,"v":8},{"c":1170,"v":18},{"c":1175,"v":10},{"c":1180,"v":22},{"c":1185,"v":5},{"c":1190,"v":17},{"c":1195,"v":10},{"c":1200,"v":21},{"c":1205,"v":4},{"c":1210,"v":18},{"c":1215,"v":10},{"c":1220,"v":22},{"c":1225,"v":5},{"c":1230,"v":17},{"c":1235,"v":10},{"c":1240,"v":21},{"c":1245,"v":4},{"c":1250,"v":18},{"c":1255,"v":10},{"c":1260,"v":22},{"c":1265,"v":5},{"c":1270,"v":17},{"c":1275,"v":10},{"c":1280,"v":26},{"c":1285,"v":4},{"c":1290,"v":18},{"c":1295,"v":10},{"c":1300,"v":22},{"c":1305,"v":5},{"c":1310,"v":17},{"c":1316,"v":10}],
"g": [{"c":68,"v":10},{"c":72,"v":-5},{"c":77,"v":15},{"c":82,"v":0},{"c":87,"v":18},{"c":92,"v":-10},{"c":97,"v":12},{"c":102,"v":5},{"c":107,"v":20},{"c":112,"v":-8},{"c":117,"v":14},{"c":122,"v":2},{"c":127,"v":18},{"c":132,"v":-12},{"c":137,"v":10},{"c":142,"v":15},{"c":147,"v":-5},{"c":152,"v":20},{"c":157,"v":31},{"c":160,"v":0},{"c":165,"v":15},{"c":170,"v":-10},{"c":175,"v":18},{"c":180,"v":5},{"c":184,"v":30},{"c":186,"v":90},{"c":187,"v":128},{"c":188,"v":80},{"c":190,"v":20},{"c":193,"v":-15},{"c":197,"v":12},{"c":202,"v":0},{"c":207,"v":18},{"c":212,"v":5},{"c":217,"v":25},{"c":221,"v":49},{"c":224,"v":8},{"c":228,"v":-18},{"c":232,"v":15},{"c":236,"v":2},{"c":240,"v":20},{"c":244,"v":10},{"c":247,"v":40},{"c":249,"v":80},{"c":250,"v":111},{"c":251,"v":70},{"c":253,"v":15},{"c":257,"v":-10},{"c":261,"v":12},{"c":265,"v":0},{"c":269,"v":20},{"c":274,"v":-8},{"c":279,"v":40},{"c":282,"v":5},{"c":287,"v":25},{"c":292,"v":32},{"c":296,"v":-5},{"c":300,"v":15},{"c":304,"v":0},{"c":308,"v":22},{"c":312,"v":-15},{"c":316,"v":10},{"c":320,"v":15},{"c":323,"v":30},{"c":325,"v":150},{"c":326,"v":234},{"c":327,"v":160},{"c":329,"v":30},{"c":332,"v":10},{"c":336,"v":-18},{"c":340,"v":15},{"c":344,"v":-5},{"c":348,"v":18},{"c":352,"v":0},{"c":356,"v":22},{"c":360,"v":10},{"c":364,"v":45},{"c":367,"v":15},{"c":371,"v":30},{"c":375,"v":-5},{"c":380,"v":15},{"c":384,"v":-18},{"c":388,"v":10},{"c":392,"v":0},{"c":396,"v":20},{"c":400,"v":5},{"c":403,"v":25},{"c":405,"v":43},{"c":408,"v":10},{"c":412,"v":-10},{"c":416,"v":15},{"c":420,"v":0},{"c":424,"v":20},{"c":428,"v":5},{"c":433,"v":18},{"c":437,"v":25},{"c":441,"v":-5},{"c":446,"v":12},{"c":451,"v":0},{"c":456,"v":18},{"c":461,"v":-10},{"c":466,"v":15},{"c":471,"v":5},{"c":476,"v":20},{"c":481,"v":-8},{"c":486,"v":12},{"c":491,"v":2},{"c":496,"v":18},{"c":501,"v":-12},{"c":506,"v":10},{"c":511,"v":20},{"c":516,"v":-5},{"c":521,"v":15},{"c":526,"v":0},{"c":531,"v":18},{"c":536,"v":5},{"c":540,"v":20},{"c":543,"v":40},{"c":545,"v":120},{"c":546,"v":186},{"c":547,"v":120},{"c":549,"v":20},{"c":552,"v":0},{"c":556,"v":15},{"c":561,"v":-10},{"c":566,"v":18},{"c":571,"v":2},{"c":576,"v":20},{"c":581,"v":-15},{"c":586,"v":10},{"c":591,"v":5},{"c":596,"v":22},{"c":601,"v":-5},{"c":606,"v":15},{"c":611,"v":0},{"c":616,"v":18},{"c":621,"v":-10},{"c":626,"v":12},{"c":631,"v":5},{"c":635,"v":20},{"c":638,"v":32},{"c":641,"v":0},{"c":646,"v":-18},{"c":651,"v":15},{"c":656,"v":2},{"c":661,"v":18},{"c":666,"v":-8},{"c":671,"v":12},{"c":676,"v":5},{"c":681,"v":20},{"c":686,"v":-12},{"c":691,"v":10},{"c":696,"v":0},{"c":701,"v":18},{"c":706,"v":5},{"c":711,"v":22},{"c":716,"v":-5},{"c":722,"v":29},{"c":726,"v":5},{"c":731,"v":18},{"c":736,"v":-10},{"c":741,"v":12},{"c":746,"v":2},{"c":751,"v":20},{"c":756,"v":-5},{"c":761,"v":15},{"c":766,"v":0},{"c":771,"v":22},{"c":776,"v":8},{"c":781,"v":-12},{"c":786,"v":15},{"c":791,"v":2},{"c":796,"v":18},{"c":801,"v":-8},{"c":806,"v":12},{"c":811,"v":5},{"c":816,"v":20},{"c":821,"v":-10},{"c":826,"v":10},{"c":831,"v":0},{"c":836,"v":18},{"c":841,"v":6},{"c":846,"v":22},{"c":851,"v":-5},{"c":856,"v":14},{"c":861,"v":2},{"c":866,"v":18},{"c":871,"v":-12},{"c":876,"v":12},{"c":881,"v":5},{"c":886,"v":25},{"c":891,"v":-5},{"c":896,"v":14},{"c":901,"v":2},{"c":906,"v":20},{"c":911,"v":-8},{"c":916,"v":12},{"c":921,"v":6},{"c":926,"v":22},{"c":931,"v":-10},{"c":936,"v":14},{"c":941,"v":2},{"c":946,"v":18},{"c":951,"v":-5},{"c":956,"v":12},{"c":961,"v":5},{"c":966,"v":20},{"c":970,"v":-8},{"c":973,"v":28},{"c":977,"v":5},{"c":982,"v":18},{"c":987,"v":-5},{"c":992,"v":14},{"c":997,"v":8},{"c":1002,"v":20},{"c":1007,"v":0},{"c":1012,"v":14},{"c":1017,"v":6},{"c":1022,"v":18},{"c":1027,"v":-2},{"c":1032,"v":14},{"c":1037,"v":5},{"c":1042,"v":17},{"c":1047,"v":0},{"c":1052,"v":12},{"c":1057,"v":6},{"c":1062,"v":18},{"c":1067,"v":-2},{"c":1072,"v":13},{"c":1077,"v":5},{"c":1082,"v":17},{"c":1087,"v":0},{"c":1092,"v":12},{"c":1097,"v":6},{"c":1102,"v":18},{"c":1107,"v":-2},{"c":1112,"v":13},{"c":1117,"v":5},{"c":1122,"v":17},{"c":1127,"v":0},{"c":1132,"v":12},{"c":1137,"v":6},{"c":1142,"v":16},{"c":1147,"v":-2},{"c":1152,"v":13},{"c":1157,"v":5},{"c":1162,"v":17},{"c":1167,"v":0},{"c":1172,"v":12},{"c":1177,"v":6},{"c":1182,"v":18},{"c":1187,"v":-2},{"c":1192,"v":13},{"c":1197,"v":5},{"c":1202,"v":17},{"c":1207,"v":0},{"c":1212,"v":12},{"c":1217,"v":6},{"c":1222,"v":16},{"c":1227,"v":-2},{"c":1232,"v":13},{"c":1237,"v":5},{"c":1242,"v":17},{"c":1247,"v":0},{"c":1252,"v":12},{"c":1257,"v":6},{"c":1262,"v":18},{"c":1267,"v":-2},{"c":1272,"v":13},{"c":1277,"v":5},{"c":1282,"v":17},{"c":1287,"v":0},{"c":1292,"v":12},{"c":1297,"v":8},{"c":1301,"v":24},{"c":1304,"v":5},{"c":1309,"v":14},{"c":1316,"v":6}],
"peaks": [
 {"p":"a","c":159,"v":2102,"t":"98.0"},{"p":"a","c":323,"v":833,"t":"176.4"},{"p":"a","c":371,"v":833,"t":"199(Ba)"},{"p":"a","c":885,"v":299,"t":"533.8"},{"p":"a","c":1115,"v":705,"t":"710.0"},
 {"p":"b","c":181,"v":456,"t":"98.0"},{"p":"b","c":226,"v":580,"t":"133.6"},{"p":"b","c":355,"v":148,"t":"199(Ba)"},{"p":"b","c":398,"v":148,"t":"222.5"},{"p":"b","c":420,"v":412,"t":"231.7"},
 {"p":"c","c":326,"v":184,"t":"176.4"},{"p":"c","c":881,"v":48,"t":"533.8"},{"p":"c","c":1092,"v":155,"t":"710.0"},
 {"p":"d","c":227,"v":3035,"t":"133.6"},{"p":"d","c":322,"v":1507,"t":"176.4"},{"p":"d","c":367,"v":1916,"t":"199(Ba)"},{"p":"d","c":406,"v":1469,"t":"222.5"},{"p":"d","c":881,"v":388,"t":"533.8"},{"p":"d","c":1120,"v":724,"t":"710.0"},{"p":"d","c":1286,"v":426,"t":"843.7"},
 {"p":"e","c":159,"v":823,"t":"98.0"},{"p":"e","c":227,"v":782,"t":"133.6"},{"p":"e","c":421,"v":242,"t":"231.7"},{"p":"e","c":878,"v":262,"t":"533.8"},
 {"p":"f","c":157,"v":177,"t":"98.0"},
 {"p":"g","c":188,"v":143,"t":"98.0"},{"p":"g","c":256,"v":126,"t":"133.6"},{"p":"g","c":304,"v":184,"t":"176.4"},{"p":"g","c":520,"v":176,"t":"310.0"}
],
"tags": [
 {"p":"a","c":90,"v":2305,"t":"a)"},{"p":"a","c":907,"v":2305,"t":"gate 133.6 keV"},
 {"p":"b","c":90,"v":665,"t":"b)"},{"p":"b","c":907,"v":680,"t":"gate 710.0 keV"},
 {"p":"c","c":90,"v":300,"t":"c)"},{"p":"c","c":907,"v":300,"t":"gate 231.7 keV"},
 {"p":"d","c":90,"v":3520,"t":"d)"},{"p":"d","c":907,"v":3520,"t":"gate 98.0 keV"},
 {"p":"e","c":90,"v":975,"t":"e)"},{"p":"e","c":907,"v":960,"t":"gate 176.4 keV"},
 {"p":"f","c":90,"v":209,"t":"f)"},{"p":"f","c":907,"v":211,"t":"gate 843.7 keV"},
 {"p":"g","c":90,"v":222,"t":"g)"},{"p":"g","c":907,"v":219,"t":"gate 533.8 keV"}
]
},
"vconcat": [
{"width": 556, "height": 178.6, "resolve": {"axis": {"x": "independent"}}, "layer": [
 {"data": {"name": "a"}, "mark": {"type": "line", "color": "black", "strokeWidth": 1.3, "clip": true},
  "encoding": {"x": {"field": "c", "type": "quantitative", "scale": {"domain": [67, 1316], "nice": false, "zero": false}, "axis": {"orient": "bottom", "values": [100,200,300,400,500,600,700,800,900,1000,1100,1200,1300], "tickCount": 100, "labels": false, "title": null}},
   "y": {"field": "v", "type": "quantitative", "scale": {"domain": [-46, 2673], "nice": false, "zero": false}, "axis": {"values": [0,200,400,600,800,1000,1200,1400,1600,1800,2000,2200,2400,2600], "tickCount": 100, "labelExpr": "indexof([400,1200,2000], datum.value) >= 0 ? datum.label : ''", "labelFontSize": {"condition": {"test": "indexof([400,1200,2000], datum.value) >= 0", "value": 26}, "value": 0}, "labelOverlap": false, "format": "d", "title": null}}}},
 {"data": {"name": "peaks"}, "transform": [{"filter": "datum.p == 'a'"}], "mark": {"type": "text", "angle": 270, "align": "left", "baseline": "middle", "fontSize": 16},
  "encoding": {"x": {"field": "c", "type": "quantitative", "scale": {"domain": [67, 1316], "nice": false, "zero": false}, "axis": {"orient": "top", "values": [100,200,300,400,500,600,700,800,900,1000,1100,1200,1300], "tickCount": 100, "labels": false, "title": null}},
   "y": {"field": "v", "type": "quantitative", "scale": {"domain": [-46, 2673], "nice": false, "zero": false}}, "text": {"field": "t"}}},
 {"data": {"name": "tags"}, "transform": [{"filter": "datum.p == 'a'"}], "mark": {"type": "text", "align": "left", "baseline": "middle", "fontSize": 26},
  "encoding": {"x": {"field": "c", "type": "quantitative", "scale": {"domain": [67, 1316], "nice": false, "zero": false}, "axis": null},
   "y": {"field": "v", "type": "quantitative", "scale": {"domain": [-46, 2673], "nice": false, "zero": false}}, "text": {"field": "t"}}}
]},
{"width": 556, "height": 178.6, "resolve": {"axis": {"x": "independent"}}, "layer": [
 {"data": {"name": "b"}, "mark": {"type": "line", "color": "black", "strokeWidth": 1.3, "clip": true},
  "encoding": {"x": {"field": "c", "type": "quantitative", "scale": {"domain": [67, 1316], "nice": false, "zero": false}, "axis": {"orient": "bottom", "values": [100,200,300,400,500,600,700,800,900,1000,1100,1200,1300], "tickCount": 100, "labels": false, "title": null}},
   "y": {"field": "v", "type": "quantitative", "scale": {"domain": [-9, 774], "nice": false, "zero": false}, "axis": {"values": [0,100,200,300,400,500,600,700], "tickCount": 100, "labelExpr": "indexof([200,400,600], datum.value) >= 0 ? datum.label : ''", "labelFontSize": {"condition": {"test": "indexof([200,400,600], datum.value) >= 0", "value": 26}, "value": 0}, "labelOverlap": false, "format": "d", "title": null}}}},
 {"data": {"name": "peaks"}, "transform": [{"filter": "datum.p == 'b'"}], "mark": {"type": "text", "angle": 270, "align": "left", "baseline": "middle", "fontSize": 16},
  "encoding": {"x": {"field": "c", "type": "quantitative", "scale": {"domain": [67, 1316], "nice": false, "zero": false}, "axis": {"orient": "top", "values": [100,200,300,400,500,600,700,800,900,1000,1100,1200,1300], "tickCount": 100, "labels": false, "title": null}},
   "y": {"field": "v", "type": "quantitative", "scale": {"domain": [-9, 774], "nice": false, "zero": false}}, "text": {"field": "t"}}},
 {"data": {"name": "tags"}, "transform": [{"filter": "datum.p == 'b'"}], "mark": {"type": "text", "align": "left", "baseline": "middle", "fontSize": 26},
  "encoding": {"x": {"field": "c", "type": "quantitative", "scale": {"domain": [67, 1316], "nice": false, "zero": false}, "axis": null},
   "y": {"field": "v", "type": "quantitative", "scale": {"domain": [-9, 774], "nice": false, "zero": false}}, "text": {"field": "t"}}}
]},
{"width": 556, "height": 178.6, "resolve": {"axis": {"x": "independent"}}, "layer": [
 {"data": {"name": "c"}, "mark": {"type": "line", "color": "black", "strokeWidth": 1.3, "clip": true},
  "encoding": {"x": {"field": "c", "type": "quantitative", "scale": {"domain": [67, 1316], "nice": false, "zero": false}, "axis": {"orient": "bottom", "values": [100,200,300,400,500,600,700,800,900,1000,1100,1200,1300], "tickCount": 100, "labels": false, "title": null}},
   "y": {"field": "v", "type": "quantitative", "scale": {"domain": [-19, 328], "nice": false, "zero": false}, "axis": {"values": [0,50,100,150,200,250,300], "tickCount": 100, "labelExpr": "indexof([0,100,200,300], datum.value) >= 0 ? datum.label : ''", "labelFontSize": {"condition": {"test": "indexof([0,100,200,300], datum.value) >= 0", "value": 26}, "value": 0}, "labelOverlap": false, "format": "d", "title": null}}}},
 {"data": {"name": "peaks"}, "transform": [{"filter": "datum.p == 'c'"}], "mark": {"type": "text", "angle": 270, "align": "left", "baseline": "middle", "fontSize": 16},
  "encoding": {"x": {"field": "c", "type": "quantitative", "scale": {"domain": [67, 1316], "nice": false, "zero": false}, "axis": {"orient": "top", "values": [100,200,300,400,500,600,700,800,900,1000,1100,1200,1300], "tickCount": 100, "labels": false, "title": null}},
   "y": {"field": "v", "type": "quantitative", "scale": {"domain": [-19, 328], "nice": false, "zero": false}}, "text": {"field": "t"}}},
 {"data": {"name": "tags"}, "transform": [{"filter": "datum.p == 'c'"}], "mark": {"type": "text", "align": "left", "baseline": "middle", "fontSize": 26},
  "encoding": {"x": {"field": "c", "type": "quantitative", "scale": {"domain": [67, 1316], "nice": false, "zero": false}, "axis": null},
   "y": {"field": "v", "type": "quantitative", "scale": {"domain": [-19, 328], "nice": false, "zero": false}}, "text": {"field": "t"}}}
]},
{"width": 556, "height": 178.6, "resolve": {"axis": {"x": "independent"}}, "layer": [
 {"data": {"name": "d"}, "mark": {"type": "line", "color": "black", "strokeWidth": 1.3, "clip": true},
  "encoding": {"x": {"field": "c", "type": "quantitative", "scale": {"domain": [67, 1316], "nice": false, "zero": false}, "axis": {"orient": "bottom", "values": [100,200,300,400,500,600,700,800,900,1000,1100,1200,1300], "tickCount": 100, "labels": false, "title": null}},
   "y": {"field": "v", "type": "quantitative", "scale": {"domain": [10, 4015], "nice": false, "zero": false}, "axis": {"values": [500,1000,1500,2000,2500,3000,3500,4000], "tickCount": 100, "labelExpr": "indexof([500,1500,2500,3500], datum.value) >= 0 ? datum.label : ''", "labelFontSize": {"condition": {"test": "indexof([500,1500,2500,3500], datum.value) >= 0", "value": 26}, "value": 0}, "labelOverlap": false, "format": "d", "title": "Counts\u00a0\u00a0\u00a0per\u00a0\u00a0\u00a0Channel", "titleFontSize": 26, "titleAngle": 270, "titleAlign": "center", "titleBaseline": "alphabetic", "titleX": -98.5, "titleY": 78}}}},
 {"data": {"name": "peaks"}, "transform": [{"filter": "datum.p == 'd'"}], "mark": {"type": "text", "angle": 270, "align": "left", "baseline": "middle", "fontSize": 16},
  "encoding": {"x": {"field": "c", "type": "quantitative", "scale": {"domain": [67, 1316], "nice": false, "zero": false}, "axis": {"orient": "top", "values": [100,200,300,400,500,600,700,800,900,1000,1100,1200,1300], "tickCount": 100, "labels": false, "title": null}},
   "y": {"field": "v", "type": "quantitative", "scale": {"domain": [10, 4015], "nice": false, "zero": false}}, "text": {"field": "t"}}},
 {"data": {"name": "tags"}, "transform": [{"filter": "datum.p == 'd'"}], "mark": {"type": "text", "align": "left", "baseline": "middle", "fontSize": 26},
  "encoding": {"x": {"field": "c", "type": "quantitative", "scale": {"domain": [67, 1316], "nice": false, "zero": false}, "axis": null},
   "y": {"field": "v", "type": "quantitative", "scale": {"domain": [10, 4015], "nice": false, "zero": false}}, "text": {"field": "t"}}}
]},
{"width": 556, "height": 178.6, "resolve": {"axis": {"x": "independent"}}, "layer": [
 {"data": {"name": "e"}, "mark": {"type": "line", "color": "black", "strokeWidth": 1.3, "clip": true},
  "encoding": {"x": {"field": "c", "type": "quantitative", "scale": {"domain": [67, 1316], "nice": false, "zero": false}, "axis": {"orient": "bottom", "values": [100,200,300,400,500,600,700,800,900,1000,1100,1200,1300], "tickCount": 100, "labels": false, "title": null}},
   "y": {"field": "v", "type": "quantitative", "scale": {"domain": [-20, 1092], "nice": false, "zero": false}, "axis": {"values": [0,100,200,300,400,500,600,700,800,900,1000], "tickCount": 100, "labelExpr": "indexof([200,600,1000], datum.value) >= 0 ? datum.label : ''", "labelFontSize": {"condition": {"test": "indexof([200,600,1000], datum.value) >= 0", "value": 26}, "value": 0}, "labelOverlap": false, "format": "d", "title": null}}}},
 {"data": {"name": "peaks"}, "transform": [{"filter": "datum.p == 'e'"}], "mark": {"type": "text", "angle": 270, "align": "left", "baseline": "middle", "fontSize": 16},
  "encoding": {"x": {"field": "c", "type": "quantitative", "scale": {"domain": [67, 1316], "nice": false, "zero": false}, "axis": {"orient": "top", "values": [100,200,300,400,500,600,700,800,900,1000,1100,1200,1300], "tickCount": 100, "labels": false, "title": null}},
   "y": {"field": "v", "type": "quantitative", "scale": {"domain": [-20, 1092], "nice": false, "zero": false}}, "text": {"field": "t"}}},
 {"data": {"name": "tags"}, "transform": [{"filter": "datum.p == 'e'"}], "mark": {"type": "text", "align": "left", "baseline": "middle", "fontSize": 26},
  "encoding": {"x": {"field": "c", "type": "quantitative", "scale": {"domain": [67, 1316], "nice": false, "zero": false}, "axis": null},
   "y": {"field": "v", "type": "quantitative", "scale": {"domain": [-20, 1092], "nice": false, "zero": false}}, "text": {"field": "t"}}}
]},
{"width": 556, "height": 178.6, "resolve": {"axis": {"x": "independent"}}, "layer": [
 {"data": {"name": "f"}, "mark": {"type": "line", "color": "black", "strokeWidth": 1.3, "clip": true},
  "encoding": {"x": {"field": "c", "type": "quantitative", "scale": {"domain": [67, 1316], "nice": false, "zero": false}, "axis": {"orient": "bottom", "values": [100,200,300,400,500,600,700,800,900,1000,1100,1200,1300], "tickCount": 100, "labels": false, "title": null}},
   "y": {"field": "v", "type": "quantitative", "scale": {"domain": [0, 243], "nice": false, "zero": false}, "axis": {"values": [20,40,60,80,100,120,140,160,180,200,220,240], "tickCount": 100, "labelExpr": "indexof([60,140,220], datum.value) >= 0 ? datum.label : ''", "labelFontSize": {"condition": {"test": "indexof([60,140,220], datum.value) >= 0", "value": 26}, "value": 0}, "labelOverlap": false, "format": "d", "title": null}}}},
 {"data": {"name": "peaks"}, "transform": [{"filter": "datum.p == 'f'"}], "mark": {"type": "text", "angle": 270, "align": "left", "baseline": "middle", "fontSize": 16},
  "encoding": {"x": {"field": "c", "type": "quantitative", "scale": {"domain": [67, 1316], "nice": false, "zero": false}, "axis": {"orient": "top", "values": [100,200,300,400,500,600,700,800,900,1000,1100,1200,1300], "tickCount": 100, "labels": false, "title": null}},
   "y": {"field": "v", "type": "quantitative", "scale": {"domain": [0, 243], "nice": false, "zero": false}}, "text": {"field": "t"}}},
 {"data": {"name": "tags"}, "transform": [{"filter": "datum.p == 'f'"}], "mark": {"type": "text", "align": "left", "baseline": "middle", "fontSize": 26},
  "encoding": {"x": {"field": "c", "type": "quantitative", "scale": {"domain": [67, 1316], "nice": false, "zero": false}, "axis": null},
   "y": {"field": "v", "type": "quantitative", "scale": {"domain": [0, 243], "nice": false, "zero": false}}, "text": {"field": "t"}}}
]},
{"width": 556, "height": 178.6, "resolve": {"axis": {"x": "independent"}}, "layer": [
 {"data": {"name": "g"}, "mark": {"type": "line", "color": "black", "strokeWidth": 1.3, "clip": true},
  "encoding": {"x": {"field": "c", "type": "quantitative", "scale": {"domain": [67, 1316], "nice": false, "zero": false}, "axis": {"orient": "bottom", "values": [100,200,300,400,500,600,700,800,900,1000,1100,1200,1300], "tickCount": 100, "labelExpr": "indexof([300,500,700,900,1100], datum.value) >= 0 ? datum.label : ''", "labelOverlap": false, "format": "d", "title": "Channel\u00a0\u00a0\u00a0\u00a0Number", "titleFontSize": 27, "titleAlign": "center", "titleBaseline": "alphabetic", "titleX": 296, "titleY": 58}},
   "y": {"field": "v", "type": "quantitative", "scale": {"domain": [-20, 251], "nice": false, "zero": false}, "axis": {"values": [0,20,40,60,80,100,120,140,160,180,200,220,240], "tickCount": 100, "labelExpr": "indexof([40,120,200], datum.value) >= 0 ? datum.label : ''", "labelFontSize": {"condition": {"test": "indexof([40,120,200], datum.value) >= 0", "value": 26}, "value": 0}, "labelOverlap": false, "format": "d", "title": null}}}},
 {"data": {"name": "peaks"}, "transform": [{"filter": "datum.p == 'g'"}], "mark": {"type": "text", "angle": 270, "align": "left", "baseline": "middle", "fontSize": 16},
  "encoding": {"x": {"field": "c", "type": "quantitative", "scale": {"domain": [67, 1316], "nice": false, "zero": false}, "axis": {"orient": "top", "values": [100,200,300,400,500,600,700,800,900,1000,1100,1200,1300], "tickCount": 100, "labels": false, "title": null}},
   "y": {"field": "v", "type": "quantitative", "scale": {"domain": [-20, 251], "nice": false, "zero": false}}, "text": {"field": "t"}}},
 {"data": {"name": "tags"}, "transform": [{"filter": "datum.p == 'g'"}], "mark": {"type": "text", "align": "left", "baseline": "middle", "fontSize": 26},
  "encoding": {"x": {"field": "c", "type": "quantitative", "scale": {"domain": [67, 1316], "nice": false, "zero": false}, "axis": null},
   "y": {"field": "v", "type": "quantitative", "scale": {"domain": [-20, 251], "nice": false, "zero": false}}, "text": {"field": "t"}}}
]}
]
}
